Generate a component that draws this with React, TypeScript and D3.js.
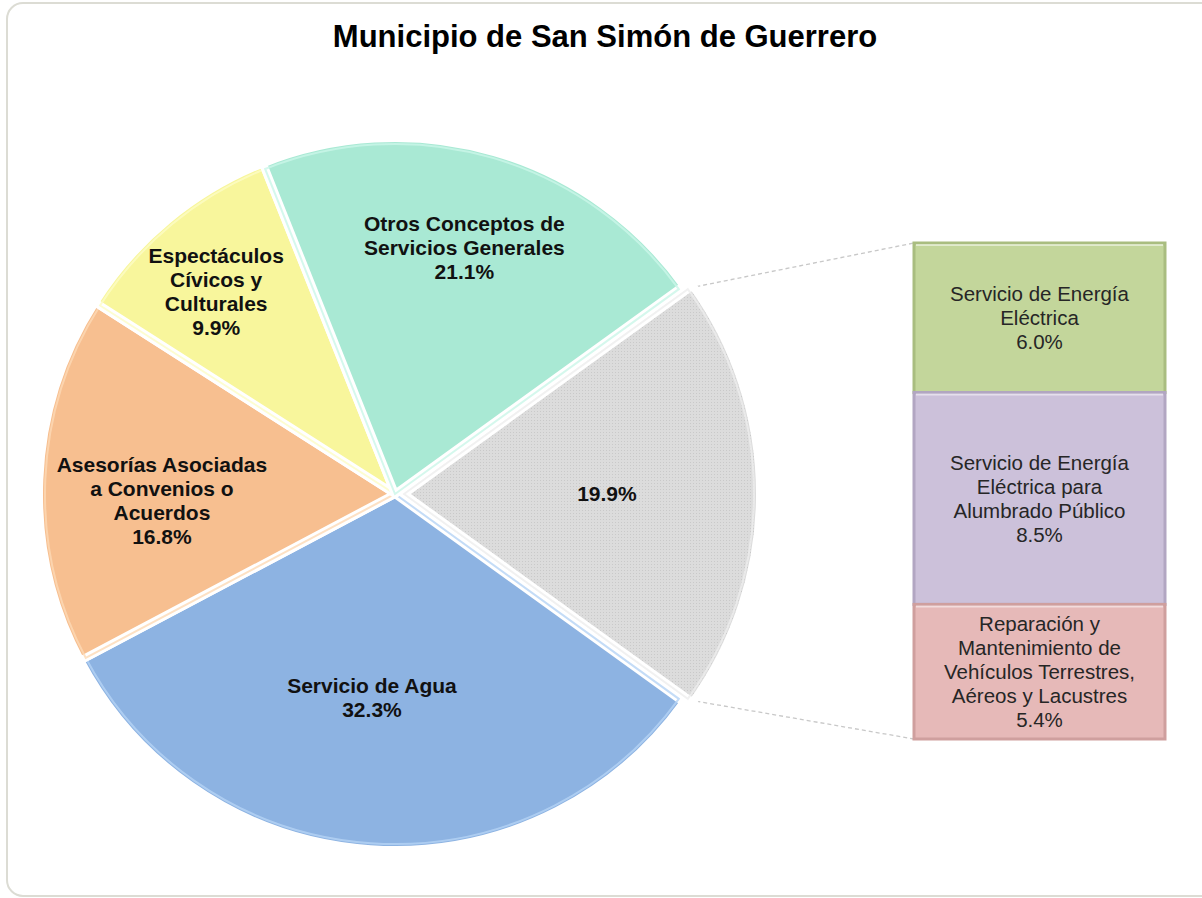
import React from "react";
import * as d3 from "d3";

const title = "Municipio de San Simón de Guerrero";

// Pie slices (clockwise starting with the group that is broken out into the bar)
const pieNames = [
  "Otros",
  "Servicio de Agua",
  "Asesorías Asociadas a Convenios o Acuerdos",
  "Espectáculos Cívicos y Culturales",
  "Otros Conceptos de Servicios Generales",
];
const pieValues = [19.9, 32.3, 16.8, 9.9, 21.1];
const pieLabelLines = [
  [],
  ["Servicio de Agua"],
  ["Asesorías Asociadas", "a Convenios o", "Acuerdos"],
  ["Espectáculos", "Cívicos y", "Culturales"],
  ["Otros Conceptos de", "Servicios Generales"],
];
const pieColors = ["#d9d9d9", "#8db3e2", "#f7bf90", "#f8f69c", "#a9e9d4"];
const pieEdge = ["#eeeeee", "#b5d3f5", "#fdd9b5", "#fdfcc6", "#cbf6e8"];
// label radius as fraction of pie radius, and angular nudge (degrees)
const labelRadiusFrac = [0.57, 0.575, 0.655, 0.758, 0.72];
const labelAngleNudge = [0, 2.5, -4, -1.9, -0.5];

// Bar of pie
const barNames = [
  "Servicio de Energía Eléctrica",
  "Servicio de Energía Eléctrica para Alumbrado Público",
  "Reparación y Mantenimiento de Vehículos Terrestres, Aéreos y Lacustres",
];
const barValues = [6.0, 8.5, 5.4];
const barLabelLines = [
  ["Servicio de Energía", "Eléctrica"],
  ["Servicio de Energía", "Eléctrica para", "Alumbrado Público"],
  ["Reparación y", "Mantenimiento de", "Vehículos Terrestres,", "Aéreos y Lacustres"],
];
const barColors = ["#c3d69b", "#ccc1da", "#e6b9b8"];
const barEdge = ["#a9bd80", "#b2a6c2", "#cf9f9e"];

const W = 1202;
const H = 898;
const FONT = "'Liberation Sans', Arial, sans-serif";

export default function App() {
  const cx = 395;
  const cy = 494;
  const r = 356;
  const explodeGray = 9;
  const total = d3.sum(pieValues);
  const grayFrac = pieValues[0] / total;
  const start = Math.PI / 2 - grayFrac * Math.PI;
  const pie = d3
    .pie<number>()
    .sort(null)
    .value((d) => d)
    .startAngle(start)
    .endAngle(start + 2 * Math.PI);
  const arcs = pie(pieValues);
  const arc = d3.arc<d3.PieArcDatum<number>>().innerRadius(0).outerRadius(r);
  const innerArc = d3.arc<d3.PieArcDatum<number>>().innerRadius(0).outerRadius(r - 6);

  const offsetOf = (i: number) => {
    if (i !== 0) return [0, 0];
    const a = (arcs[0].startAngle + arcs[0].endAngle) / 2;
    return [Math.sin(a) * explodeGray, -Math.cos(a) * explodeGray];
  };

  // bar
  const barX = 914;
  const barW = 251;
  const barTop = 243;
  const barBottom = 739;
  const barSum = d3.sum(barValues);
  const y = d3.scaleLinear().domain([0, barSum]).range([barTop, barBottom]);
  const cum = barValues.map((_, i) => d3.sum(barValues.slice(0, i)));

  // connector points on the gray slice
  const [gox, goy] = offsetOf(0);
  const rr = r - 4;
  const p1 = [cx + gox + Math.sin(arcs[0].startAngle) * rr, cy + goy - Math.cos(arcs[0].startAngle) * rr];
  const p2 = [cx + gox + Math.sin(arcs[0].endAngle) * rr, cy + goy - Math.cos(arcs[0].endAngle) * rr];

  return (
    <svg width={W} height={H} style={{ position: "absolute", left: 0, top: 0 }}>
      <defs>
        <pattern id="dots" width="3" height="3" patternUnits="userSpaceOnUse">
          <rect width="3" height="3" fill="#dcdcdc" />
          <rect x="1" y="1" width="1" height="1" fill="#c9c9c9" />
        </pattern>
      </defs>
      <rect x={0} y={0} width={W} height={H} fill="#ffffff" />
      <rect x={7} y={3} width={1212} height={893} rx={16} fill="#ffffff" stroke="#dcdcd4" strokeWidth={2} />
      <text x={605} y={47} textAnchor="middle" fontFamily={FONT} fontWeight="bold" fontSize={31} fill="#000">
        {title}
      </text>

      {/* connectors */}
      <line x1={p1[0]} y1={p1[1]} x2={barX} y2={barTop} stroke="#c8c8c8" strokeWidth={1.3} strokeDasharray="4,3" />
      <line x1={p2[0]} y1={p2[1]} x2={barX} y2={barBottom} stroke="#c8c8c8" strokeWidth={1.3} strokeDasharray="4,3" />

      {/* pie */}
      {arcs.map((a, i) => {
        const [ox, oy] = offsetOf(i);
        return (
          <g key={pieNames[i]} transform={`translate(${cx + ox},${cy + oy})`}>
            <path d={arc(a) || ""} fill={i === 0 ? "url(#dots)" : pieColors[i]} stroke="#ffffff" strokeWidth={8} strokeLinejoin="round" />
            <path d={innerArc(a) || ""} fill="none" stroke={pieEdge[i]} strokeWidth={2} strokeOpacity={0.8} />
          </g>
        );
      })}

      {/* pie labels */}
      {arcs.map((a, i) => {
        const [ox, oy] = offsetOf(i);
        const ang = (a.startAngle + a.endAngle) / 2 + (labelAngleNudge[i] * Math.PI) / 180;
        const lr = r * labelRadiusFrac[i];
        const lx = cx + ox + Math.sin(ang) * lr;
        const ly = cy + oy - Math.cos(ang) * lr;
        const lines = [...pieLabelLines[i], `${pieValues[i].toFixed(1)}%`];
        const lh = 24;
        const y0 = ly - ((lines.length - 1) * lh) / 2;
        return (
          <text key={"l" + i} textAnchor="middle" fontFamily={FONT} fontWeight="bold" fontSize={21} fill="#111">
            {lines.map((t, k) => (
              <tspan key={k} x={lx} y={y0 + k * lh} dy="0.35em">
                {t}
              </tspan>
            ))}
          </text>
        );
      })}

      {/* bar */}
      {barValues.map((v, i) => {
        const y0 = y(cum[i]);
        const y1 = y(cum[i] + v);
        const lines = [...barLabelLines[i], `${v.toFixed(1)}%`];
        const lh = 24;
        const my = (y0 + y1) / 2;
        const ty = my - ((lines.length - 1) * lh) / 2;
        return (
          <g key={barNames[i]}>
            <rect x={barX} y={y0} width={barW} height={y1 - y0} fill={barColors[i]} stroke={barEdge[i]} strokeWidth={3} />
            <line x1={barX + 2} y1={y0 + 2} x2={barX + barW - 2} y2={y0 + 2} stroke="#ffffff" strokeOpacity={0.5} strokeWidth={2} />
            <text textAnchor="middle" fontFamily={FONT} fontSize={20.5} fill="#262626">
              {lines.map((t, k) => (
                <tspan key={k} x={barX + barW / 2} y={ty + k * lh} dy="0.35em">
                  {t}
                </tspan>
              ))}
            </text>
          </g>
        );
      })}
    </svg>
  );
}
